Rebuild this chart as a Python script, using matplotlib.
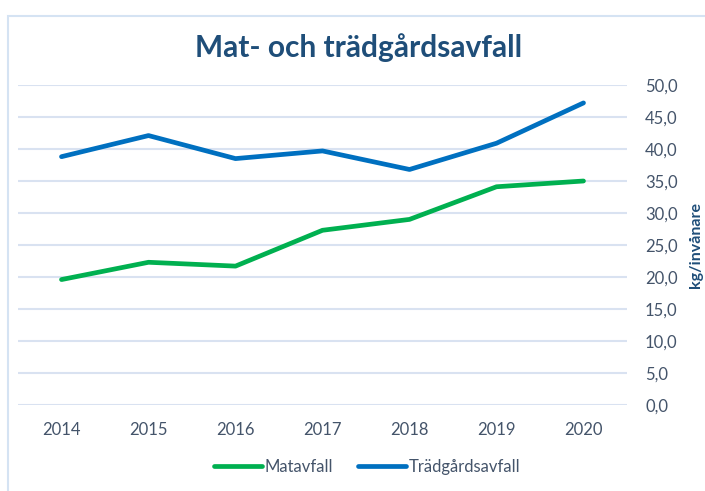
import matplotlib
matplotlib.use('Agg')
import matplotlib.pyplot as plt
from matplotlib.patches import Rectangle

#Data: kg per inhabitant and year
years = ['2014', '2015', '2016', '2017', '2018', '2019', '2020']
matavfall = [19.6, 22.3, 21.7, 27.3, 29.0, 34.1, 35.0]
tradgardsavfall = [38.8, 42.1, 38.5, 39.7, 36.8, 40.9, 47.2]
yticks = [0, 5, 10, 15, 20, 25, 30, 35, 40, 45, 50]

#Colours
green = '#00B050'
blue = '#0070C0'
text_col = '#44546A'
title_col = '#1F4E79'
grid_col = '#D9E2F1'

plt.rcParams['font.family'] = ['Lato', 'DejaVu Sans']

fig = plt.figure(figsize=(7.05, 4.91), dpi=100, facecolor='w')
#Chart frame
fig.patches.append(Rectangle((8/705., -0.1), 1.2, 1 - 16/491. + 0.1, transform=fig.transFigure,
                             fill=False, edgecolor='#D5E3F3', lw=1.5))

ax = fig.add_axes([18/705., 1 - 405/491., (627 - 18)/705., (405 - 85)/491.])
x = range(len(years))
ax.plot(x, matavfall, color=green, lw=3.4, solid_capstyle='round', label='Matavfall', zorder=3)
ax.plot(x, tradgardsavfall, color=blue, lw=3.4, solid_capstyle='round', label='Trädgårdsavfall', zorder=3)

ax.set_xlim(-0.5, 6.5)
ax.set_ylim(0, 50)
ax.set_xticks(list(x))
ax.set_xticklabels(years)
ax.set_yticks(yticks)
ax.set_yticklabels(['{:.1f}'.format(v).replace('.', ',') for v in yticks])
ax.yaxis.tick_right()
ax.yaxis.set_label_position('right')
ax.tick_params(axis='y', length=0, pad=13, labelsize=12, labelcolor=text_col)
ax.tick_params(axis='x', length=0, pad=12, labelsize=12, labelcolor=text_col)
ax.grid(axis='y', color=grid_col, lw=1.5)
ax.set_axisbelow(True)
for s in ax.spines.values():
    s.set_visible(False)
ax.set_ylabel('kg/invånare', fontsize=11.5, fontweight='bold', color=title_col, labelpad=8)

fig.text(0.508, 1 - 48/491., 'Mat- och trädgårdsavfall', ha='center', va='center',
         fontsize=21.5, fontweight='bold', color=title_col)

leg = ax.legend(loc='center', bbox_to_anchor=(367/705., 1 - 467/491.), bbox_transform=fig.transFigure,
                ncol=2, frameon=False, fontsize=12, handlelength=2.9, handletextpad=0.15,
                columnspacing=1.5)
for t in leg.get_texts():
    t.set_color(text_col)

fig.savefig('out.png', dpi=100)
